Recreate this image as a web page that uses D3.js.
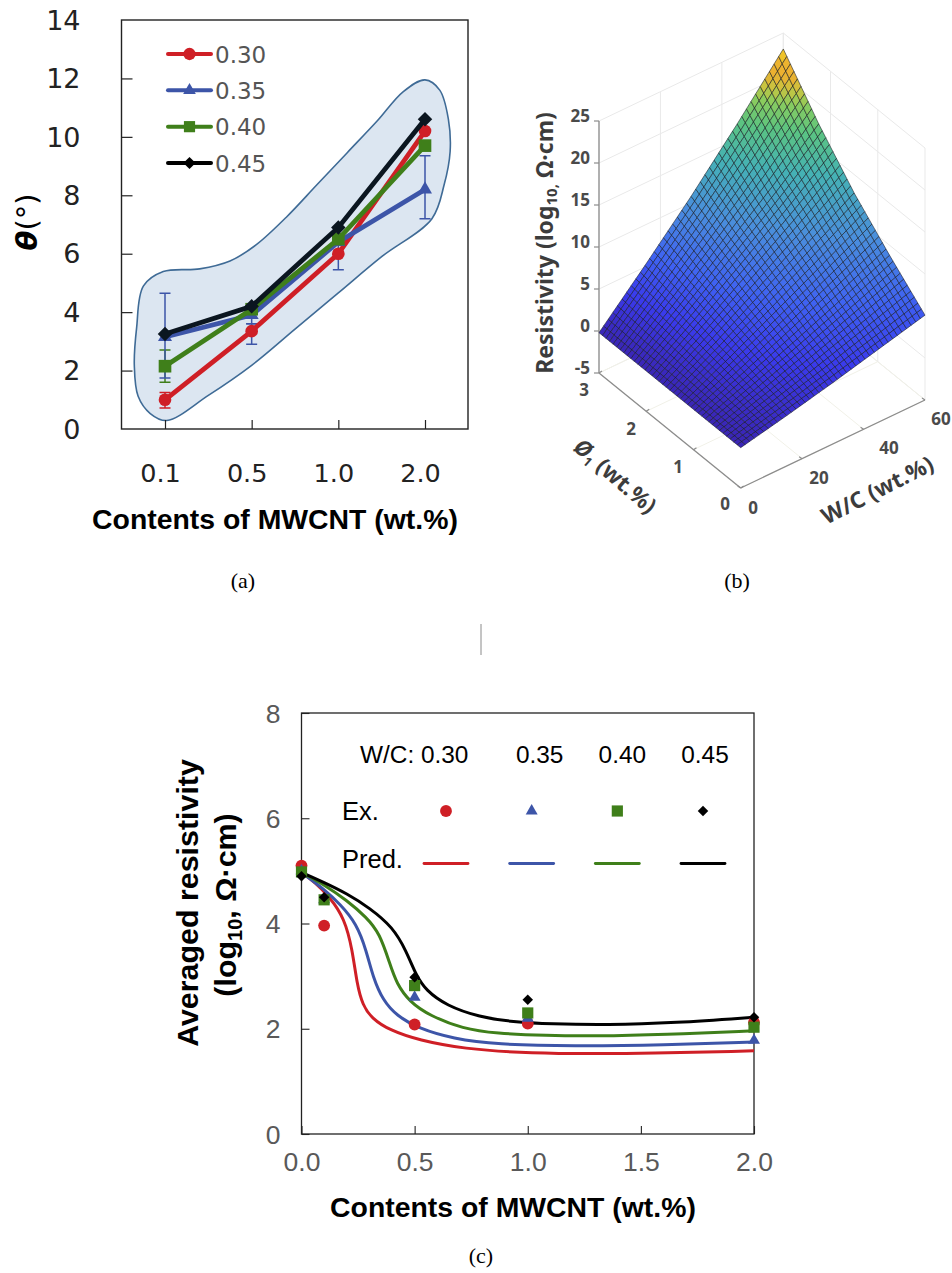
<!DOCTYPE html>
<html><head><meta charset="utf-8">
<script src="https://cdn.jsdelivr.net/npm/d3@7"></script>
<style>html,body{margin:0;background:#fff}svg{display:block}</style></head>
<body><svg id="c" width="952" height="1273"></svg>
<script>
// ---------- Panel (a) data
const aContents = ["0.1","0.5","1.0","2.0"];
const aThetaTicks = [0,2,4,6,8,10,12,14];
const wcNames = ["0.30","0.35","0.40","0.45"];
const wcColors = ["#cf1f26","#3d55a8","#3f7f1a","#000000"];
const aTheta030 = [1.0,3.35,6.0,10.2];
const aTheta035 = [3.15,3.9,6.4,8.2];
const aTheta040 = [2.15,4.1,6.5,9.7];
const aTheta045 = [3.25,4.2,6.9,10.6];
// error bars: [series index, category index, low, high]
const aErrors = [[2,0,1.6,2.7],[1,0,1.75,4.65],[0,0,0.72,1.25],[1,1,3.6,4.2],[1,1,2.9,3.6],[1,2,5.45,6.4],[1,3,7.2,9.35]];
const blobIdx = [-.354,-.327,-.25,-.02,.40,.75,1.05,1.4,1.75,2.1,2.45,2.75,3.0,3.17,3.27,3.29,3.22,3.08,2.5,2,1.5,1,.5,.02,-.17,-.31];
const blobVal = [2.18,3.48,4.89,5.39,5.48,5.75,6.3,7.25,8.35,9.45,10.55,11.55,11.95,11.6,10.6,9.5,8.35,7.2,5.9,4.66,3.42,2.18,1.15,.29,.53,1.12];

// ---------- Panel (b) data
const bWcTicks = [0,20,40,60];
const bPhiTicks = [0,1,2,3];
const bZTicks = [-5,0,5,10,15,20,25];
const bWcKnots = [0,15,30,45,60];
const bPhiKnots = [0,.75,1.5,2.25,3];
const bZ000 = [-0.2,1.0,2.3,3.7,5.1];
const bZ075 = [-0.2,1.9,4.1,6.4,8.8];
const bZ150 = [-0.2,2.9,6.2,9.5,12.8];
const bZ225 = [-0.2,4.0,8.4,12.8,17.6];
const bZ300 = [-0.2,5.2,10.8,16.8,23.1];
const bColorZ = [-0.2,3,6,10,14,17,19,20,21,22.3,23.1];
const bColors = ["#3a25b4","#3a3aec","#3f62f2","#4a8fdc","#45b2b4","#5cc480","#8ccc5c","#c8c440","#ecb030","#ecb430","#f8ec18"];
const bCells = 40;

// ---------- Panel (c) data
const cXTicks = [0,0.5,1.0,1.5,2.0];
const cYTicks = [0,2,4,6,8];
const exX = [0,0.1,0.5,1.0,2.0];
const ex030 = [5.1,3.96,2.08,2.1,2.12];
const ex035 = [5.0,4.45,2.6,2.2,1.78];
const ex040 = [4.98,4.45,2.82,2.3,2.03];
const ex045 = [4.9,4.5,2.98,2.55,2.22];
const pred030X = [0,.06,.125,.19,.225,.245,.27,.31,.39,.52,.713,1.0,1.4,2.0];
const pred030Y = [4.97,4.78,4.5,4.1,3.5,2.85,2.45,2.2,1.97,1.78,1.62,1.53,1.52,1.58];
const pred035X = [0,.1,.17,.243,.287,.316,.36,.42,.52,.67,.86,1.2,1.6,2.0];
const pred035Y = [4.97,4.65,4.37,4.0,3.48,2.98,2.54,2.25,2.0,1.81,1.70,1.67,1.69,1.75];
const pred040X = [0,.1,.2,.287,.346,.39,.42,.478,.566,.713,.86,1.08,1.3,1.6,2.0];
const pred040Y = [4.97,4.74,4.44,4.12,3.81,3.24,2.86,2.51,2.25,2.0,1.91,1.87,1.86,1.89,1.96];
const pred045X = [0,.1,.2,.3,.404,.463,.507,.55,.64,.787,.934,1.1,1.35,1.65,2.0];
const pred045Y = [4.97,4.78,4.57,4.3,3.93,3.48,3.01,2.73,2.44,2.22,2.13,2.09,2.07,2.11,2.22];

const svg = d3.select("#c");
const SANS = "'Liberation Sans',Arial,sans-serif";
const DV = "'DejaVu Sans',sans-serif";
const SERIF = "'Liberation Serif',serif";
const NOTO = "'Noto Sans',sans-serif";
const symbols = [d3.symbolCircle,d3.symbolTriangle,d3.symbolSquare,d3.symbolSquare];
const rot = s=>s===3?" rotate(45)":"";
function txt(g,x,y,s,o={}){
  return g.append("text").attr("x",x).attr("y",y).text(s)
    .attr("font-family",o.f||SANS).attr("font-size",o.s||20).attr("fill",o.c||"#000")
    .attr("font-weight",o.w||"normal").attr("text-anchor",o.a||"start")
    .attr("font-style",o.i||"normal");
}

// ========== Panel (a)
(function(){
  const g = svg.append("g");
  const x = d3.scalePoint().domain(aContents).range([165,425]);
  const idx = d3.scaleLinear().domain([0,3]).range([165,425]);
  const y = d3.scaleLinear().domain([0,14]).range([429,20]);
  g.append("path").attr("d",d3.line().curve(d3.curveCatmullRomClosed.alpha(.5))
      .x((d,i)=>idx(blobIdx[i])).y((d,i)=>y(blobVal[i]))(blobIdx))
    .attr("fill","#dce6f1").attr("stroke","#3f6b96").attr("stroke-width",1.6);
  g.append("rect").attr("x",121.5).attr("y",20).attr("width",346.5).attr("height",409)
    .attr("fill","none").attr("stroke","#222").attr("stroke-width",1.4);
  const ax = g.append("g").attr("transform","translate(121.5,0)")
    .call(d3.axisLeft(y).tickValues(aThetaTicks).tickSize(-11).tickPadding(41));
  ax.select(".domain").remove();
  ax.selectAll("line").attr("stroke","#222").attr("stroke-width",1.2);
  ax.selectAll("text").attr("font-family",DV).attr("font-size",27).attr("fill","#222").attr("dy","0.34em");
  ax.selectAll(".tick").filter(d=>d===0||d===14).select("line").remove();
  const bx = g.append("g").attr("transform","translate(0,429)")
    .call(d3.axisBottom(x).tickSize(-9).tickPadding(35));
  bx.select(".domain").remove();
  bx.selectAll("line").attr("stroke","#222").attr("stroke-width",1.2);
  bx.selectAll("text").attr("font-family",DV).attr("font-size",25.5).attr("fill","#222").attr("dx",-5);

  const series = [aTheta030,aTheta035,aTheta040,aTheta045];
  aErrors.forEach(([s,c,lo,hi])=>{
    const px = idx(c), col = wcColors[s];
    g.append("path").attr("d",`M${px},${y(lo)}V${y(hi)}M${px-5.5},${y(lo)}H${px+5.5}M${px-5.5},${y(hi)}H${px+5.5}`)
      .attr("stroke",col).attr("stroke-width",1.5).attr("fill","none");
  });
  const sizes = [126,85,160,105];
  series.forEach((vals,s)=>{
    g.append("path").attr("d",d3.line().x((d,i)=>idx(i)).y(d=>y(d))(vals))
      .attr("fill","none").attr("stroke",wcColors[s]==="#000000"?"#0b1620":wcColors[s]).attr("stroke-width",4.8);
    g.selectAll(null).data(vals).enter().append("path")
      .attr("d",d3.symbol().type(symbols[s]).size(sizes[s]))
      .attr("transform",(d,i)=>`translate(${idx(i)},${y(d)})${rot(s)}`)
      .attr("fill",wcColors[s]==="#000000"?"#0b1620":wcColors[s]);
  });
  const legY = d3.scalePoint().domain(wcNames).range([54,163]);
  wcNames.forEach((n,s)=>{
    const ly = legY(n), col = wcColors[s];
    g.append("line").attr("x1",168).attr("x2",211).attr("y1",ly).attr("y2",ly).attr("stroke",col).attr("stroke-width",4).attr("stroke-linecap","round");
    g.append("path").attr("d",d3.symbol().type(symbols[s]).size([120,70,125,75][s])).attr("transform",`translate(189.5,${ly})${rot(s)}`).attr("fill",col);
    txt(g,215,ly+8.5,n,{f:DV,s:23,c:"#555"});
  });
  txt(g,275,529,"Contents of MWCNT (wt.%)",{s:28.4,w:"bold",a:"middle"});
  const t = txt(g,0,0,"",{s:29,w:"bold",f:DV}).attr("transform","translate(37,222) rotate(-90)").attr("text-anchor","middle");
  t.append("tspan").attr("font-style","italic").text("θ");
  t.append("tspan").attr("font-weight","normal").text("(°)");
  txt(g,243,588,"(a)",{f:SERIF,s:22,a:"middle"});
})();

// ========== Panel (b)
(function(){
  const g = svg.append("g");
  const pxW = d3.scaleLinear().domain([0,60]).range([0,184.3]);
  const pxP = d3.scaleLinear().domain([0,3]).range([0,-141.7]);
  const pyW = d3.scaleLinear().domain([0,60]).range([0,-88]);
  const pyP = d3.scaleLinear().domain([0,3]).range([0,-115]);
  const pyZ = d3.scaleLinear().domain([-5,25]).range([0,-252]);
  const P = (w,p,z)=>[740.7+pxW(w)+pxP(p), 488+pyW(w)+pyP(p)+pyZ(z)];
  const seg = (a,b,col,sw)=>g.append("line").attr("x1",a[0]).attr("y1",a[1]).attr("x2",b[0]).attr("y2",b[1]).attr("stroke",col).attr("stroke-width",sw);
  const grid="#e9e9e9";
  bZTicks.forEach(z=>{ seg(P(0,3,z),P(60,3,z),grid,1); seg(P(60,3,z),P(60,0,z),grid,1); });
  bWcTicks.forEach(w=>{ seg(P(w,3,-5),P(w,3,25),grid,1); seg(P(w,0,-5),P(w,3,-5),"#f1f1e8",1); });
  bPhiTicks.forEach(p=>{ seg(P(60,p,-5),P(60,p,25),grid,1); seg(P(0,p,-5),P(60,p,-5),"#f1f1e8",1); });
  const axc="#8c8c8c";
  seg(P(0,3,-5),P(0,3,25),axc,1.3);
  seg(P(0,3,-5),P(0,0,-5),axc,1.3);
  seg(P(0,0,-5),P(60,0,-5),axc,1.3);
  bZTicks.forEach(z=>{const a=P(0,3,z); seg(a,[a[0]-5,a[1]],axc,1.2);
    txt(g,590,a[1]+1,z,{s:17,w:"bold",f:NOTO,c:"#4a4a4a",a:"end"});});
  bPhiTicks.forEach(p=>{const a=P(0,p,-5); seg(a,[a[0]+3,a[1]-2],axc,1.2);});
  bWcTicks.forEach(w=>{const a=P(w,0,-5); seg(a,[a[0]-3,a[1]-2],axc,1.2);});
  const lab=(x,y,s)=>txt(g,x,y,s,{s:17,w:"bold",f:NOTO,c:"#4a4a4a",a:"middle"});
  lab(584,396,"3");lab(631,435,"2");lab(678,473,"1");lab(725,510,"0");
  lab(753,514,"0");lab(819,484,"20");lab(889,454,"40");lab(941,425,"60");

  const t=txt(g,0,0,"Resistivity (log",{s:23,w:"bold",f:NOTO,c:"#3c3c3c",a:"middle"}).attr("transform","translate(553,243) rotate(-90)");
  t.append("tspan").attr("font-size",15).attr("dy",4).text("10,");
  t.append("tspan").attr("dy",-4).text(" Ω·cm)");
  txt(g,0,0,"W/C (wt.%)",{s:22.5,w:"bold",f:NOTO,c:"#3c3c3c",a:"middle"}).attr("transform","translate(881,497) rotate(-27)");
  const t3=txt(g,0,0,"Ø",{s:22.5,w:"bold",i:"italic",f:NOTO,c:"#3c3c3c",a:"middle"}).attr("transform","translate(610,482) rotate(41)");
  t3.append("tspan").attr("font-size",13).attr("dy",4).attr("font-style","normal").text("1");
  t3.append("tspan").attr("dy",-4).attr("font-style","normal").text(" (wt.%)");

  // surface
  const zRows=[bZ000,bZ075,bZ150,bZ225,bZ300];
  const zAt=(w,p)=>{
    const i=Math.min(3,Math.floor(p/.75)), j=Math.min(3,Math.floor(w/15));
    const u=(p-bPhiKnots[i])/.75, v=(w-bWcKnots[j])/15;
    return d3.interpolateNumber(
      d3.interpolateNumber(zRows[i][j],zRows[i][j+1])(v),
      d3.interpolateNumber(zRows[i+1][j],zRows[i+1][j+1])(v))(u);
  };
  const col=d3.scaleLinear().domain(bColorZ).range(bColors).clamp(true);
  const ws=d3.scaleLinear().domain([0,bCells]).range([0,60]);
  const ps=d3.scaleLinear().domain([0,bCells]).range([3,0]);
  const surf=g.append("g").attr("stroke","#10141c").attr("stroke-opacity",.6).attr("stroke-width",.9).attr("stroke-linejoin","round");
  for(let i=0;i<bCells;i++)for(let j=0;j<bCells;j++){
    const w0=ws(j),w1=ws(j+1),p0=ps(i),p1=ps(i+1);
    const pts=[[w0,p0],[w1,p0],[w1,p1],[w0,p1]].map(([w,p])=>P(w,p,zAt(w,p)));
    const zm=(zAt(w0,p0)+zAt(w1,p0)+zAt(w1,p1)+zAt(w0,p1))/4;
    surf.append("polygon").attr("points",pts.map(q=>q.map(v=>v.toFixed(2)).join(",")).join(" ")).attr("fill",col(zm));
  }
  txt(g,737,588,"(b)",{f:SERIF,s:22,a:"middle"});
})();

// ========== Separator
svg.append("line").attr("x1",481).attr("x2",481).attr("y1",624).attr("y2",655).attr("stroke","#8a8a8a").attr("stroke-width",1);

// ========== Panel (c)
(function(){
  const g = svg.append("g");
  const x = d3.scaleLinear().domain([0,2]).range([301.5,754]);
  const y = d3.scaleLinear().domain([0,8]).range([1134,713]);
  g.append("rect").attr("x",301.5).attr("y",713).attr("width",452.5).attr("height",421).attr("fill","none").attr("stroke","#222").attr("stroke-width",1.3);
  const ax=g.append("g").attr("transform","translate(301.5,0)").call(d3.axisLeft(y).tickValues(cYTicks).tickSize(-8).tickPadding(21));
  ax.select(".domain").remove();
  ax.selectAll("line").attr("stroke","#222").attr("stroke-width",1.1);
  ax.selectAll("text").attr("font-family",SANS).attr("font-size",26.5).attr("fill","#595959").attr("dy","0.34em").text(d=>d);
  const bx=g.append("g").attr("transform","translate(0,1134)").call(d3.axisBottom(x).tickValues(cXTicks).tickSize(-8).tickPadding(18));
  bx.select(".domain").remove();
  bx.selectAll("line").attr("stroke","#222").attr("stroke-width",1.1);
  bx.selectAll("text").attr("font-family",SANS).attr("font-size",26.5).attr("fill","#595959").text(d=>d.toFixed(1));
  const preds=[[pred030X,pred030Y],[pred035X,pred035Y],[pred040X,pred040Y],[pred045X,pred045Y]];
  preds.forEach(([px,py],s)=>{
    g.append("path").attr("d",d3.line().curve(d3.curveBasis).x((d,i)=>x(px[i])).y((d,i)=>y(py[i]))(px))
     .attr("fill","none").attr("stroke",wcColors[s]).attr("stroke-width",3);
  });
  const exs=[ex030,ex035,ex040,ex045], sz=[110,62,125,55];
  exs.forEach((vals,s)=>{
    g.selectAll(null).data(vals).enter().append("path").attr("d",d3.symbol().type(symbols[s]).size(sz[s]))
      .attr("transform",(d,i)=>`translate(${x(exX[i])},${y(d)})${rot(s)}`).attr("fill",wcColors[s]);
  });
  // legend
  const legX=d3.scalePoint().domain(wcNames).range([446,703]);
  wcNames.forEach((n,s)=>{
    const lx=legX(n);
    if(s>0) txt(g,lx+(s==1?8:(s==2?5:2)),763,n,{s:24.4,a:"middle"});
    g.append("path").attr("d",d3.symbol().type(symbols[s]).size(sz[s])).attr("transform",`translate(${lx},811)${rot(s)}`).attr("fill",wcColors[s]);
    g.append("line").attr("x1",lx-22).attr("x2",lx+22).attr("y1",863.5).attr("y2",863.5).attr("stroke",wcColors[s]).attr("stroke-width",2.8).attr("stroke-linecap","round");
  });
  txt(g,360,763,"W/C: 0.30",{s:24.4});
  txt(g,342,820,"Ex.",{s:25.5});
  txt(g,342,868,"Pred.",{s:25.5});
  txt(g,513,1217,"Contents of MWCNT (wt.%)",{s:28.4,w:"bold",a:"middle"});
  txt(g,0,0,"Averaged resistivity",{s:30.4,w:"bold",a:"middle"}).attr("transform","translate(198,903) rotate(-90)");
  const t=txt(g,0,0,"(log",{s:30.4,w:"bold",a:"middle"}).attr("transform","translate(236,905) rotate(-90)");
  t.append("tspan").attr("font-size",20).attr("dy",6).text("10");
  t.append("tspan").attr("dy",-6).text(", Ω·cm)");
  txt(g,481,1263,"(c)",{f:SERIF,s:22,a:"middle"});
})();
</script></body></html>
